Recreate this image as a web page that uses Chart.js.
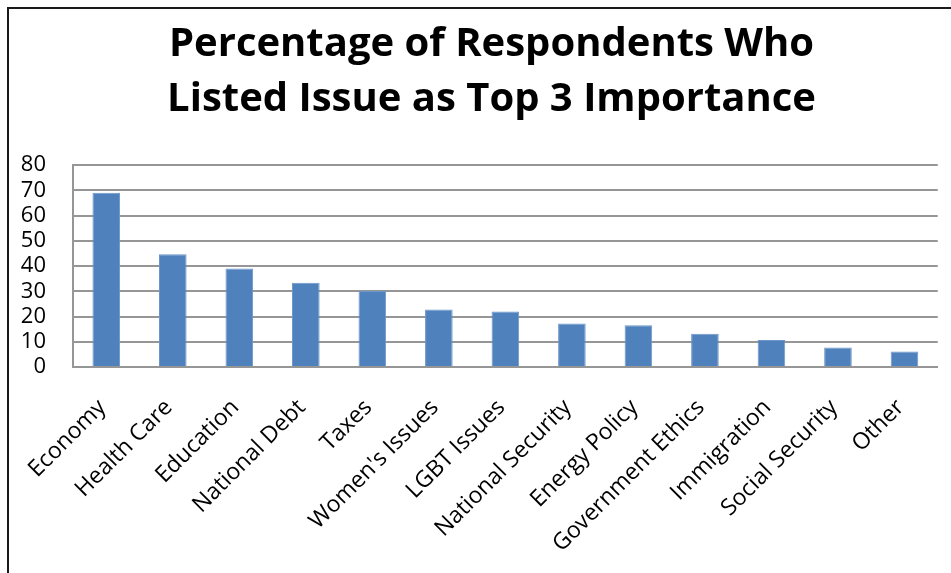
<!DOCTYPE html>
<html>
<head>
<meta charset="utf-8">
<script src="https://cdn.jsdelivr.net/npm/chart.js@4/dist/chart.umd.min.js"></script>
<style>
  html, body { margin: 0; padding: 0; background: #ffffff; overflow: hidden; }
  #wrap { position: relative; width: 951px; height: 573px; overflow: hidden; }
  #frame { position: absolute; left: 7px; top: 7px; width: 2000px; height: 2000px;
           border-left: 2px solid #1a1a1a; border-top: 2px solid #1a1a1a; pointer-events: none; }
  canvas { position: absolute; left: 0; top: 0; }
</style>
</head>
<body>
<div id="wrap">
  <div id="frame"></div>
  <canvas id="c" width="951" height="573"></canvas>
</div>
<script>
const titleLines = ["Percentage of Respondents Who", "Listed Issue as Top 3 Importance"];
const categories = ["Economy", "Health Care", "Education", "National Debt", "Taxes",
  "Women's Issues", "LGBT Issues", "National Security", "Energy Policy",
  "Government Ethics", "Immigration", "Social Security", "Other"];
const percentages = [69, 44.7, 39, 33.4, 30.1, 22.8, 22, 17.2, 16.5, 13.2, 10.7, 7.7, 6.1];
const yTicks = [0, 10, 20, 30, 40, 50, 60, 70, 80];

const FONT = "'Open Sans', Lato, sans-serif";
const gridColor = '#969696';

const shiftTitle = {
  id: 'shiftTitle',
  afterLayout(chart) {
    if (chart.titleBlock) { chart.titleBlock.left += 32; }
  }
};

new Chart(document.getElementById('c'), {
  type: 'bar',
  data: {
    labels: categories,
    datasets: [{
      data: percentages,
      backgroundColor: '#4F81BD',
      borderColor: '#6d96c9',
      borderWidth: 1,
      categoryPercentage: 1.0,
      barPercentage: 0.415
    }]
  },
  plugins: [shiftTitle],
  options: {
    responsive: false,
    animation: false,
    layout: { padding: { left: 0, right: 0, top: 0, bottom: 0 } },
    plugins: {
      legend: { display: false },
      tooltip: { enabled: false },
      title: {
        display: true,
        text: titleLines,
        color: '#000000',
        font: { family: FONT, size: 40, weight: 'bold', lineHeight: 1.375 },
        padding: { top: 17, bottom: 38 }
      }
    },
    scales: {
      x: {
        grid: { display: false, drawTicks: false },
        border: { display: true, color: gridColor, width: 2 },
        ticks: {
          color: '#000000',
          font: { family: FONT, size: 23 },
          minRotation: 45,
          maxRotation: 45,
          autoSkip: false,
          labelOffset: -4,
          padding: 27
        },
        afterFit: (s) => { s.height = 206; }
      },
      y: {
        min: 0,
        max: 80,
        afterBuildTicks: (s) => { s.ticks = yTicks.map(v => ({ value: v })); },
        grid: { color: gridColor, lineWidth: 2, drawTicks: false },
        border: { display: true, color: gridColor, width: 2 },
        ticks: {
          color: '#000000',
          font: { family: FONT, size: 22 },
          autoSkip: false,
          padding: 27
        },
        afterFit: (s) => { s.width = 73; }
      }
    }
  }
});
</script>
</body>
</html>
